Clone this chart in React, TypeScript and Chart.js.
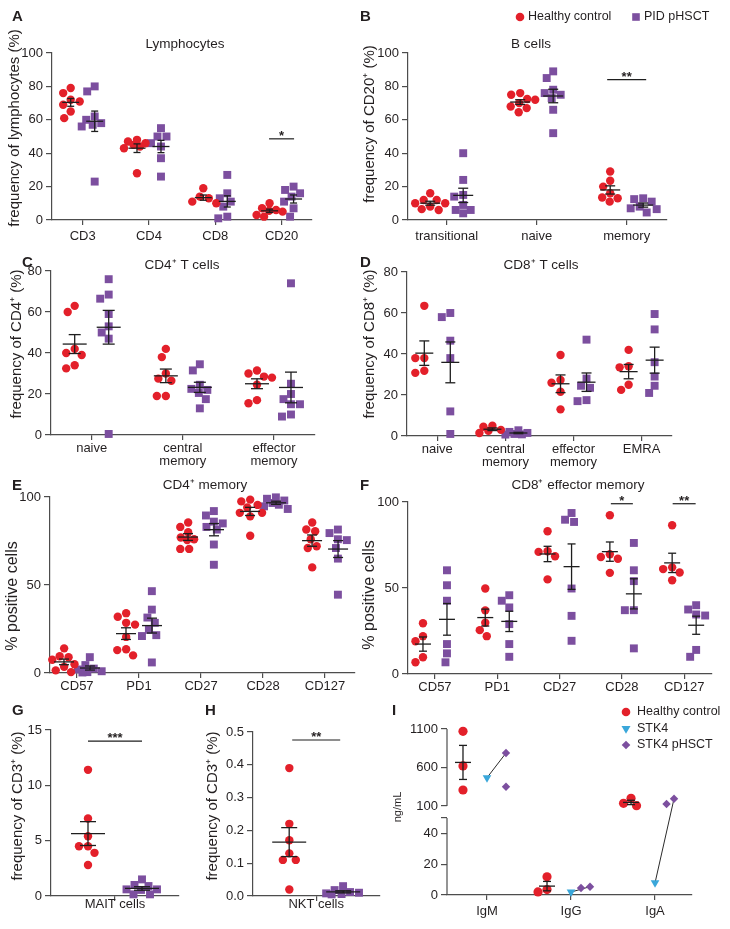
import React, { useEffect, useRef } from 'react';
import { Chart, registerables, LinearScale } from 'chart.js';

Chart.register(...registerables);

// ---------- data ----------
// A – Lymphocytes
const lymphCats = ['CD3', 'CD4', 'CD8', 'CD20'];
const lymphHealthy = [[79, 76, 72, 71, 69, 65, 61], [48, 47, 46, 45, 44, 43, 28], [19, 14, 13, 11, 10], [10, 7, 6, 5.5, 5, 3, 2]];
const lymphPid = [[80, 77, 62, 60, 58, 57, 56, 23], [55, 50, 50, 46, 44, 37, 26], [27, 16, 13, 11, 8, 2, 1], [20, 18, 16, 14, 11, 7, 2]];
// B – B cells
const bCats = ['transitional', 'naive', 'memory'];
const bHealthy = [[16, 12, 12, 10, 10, 8, 6.5, 6], [76, 75, 72.5, 72, 70, 68, 67, 64.5], [29, 23.5, 20, 16, 13.5, 13, 11]];
const bPid = [[40, 24, 15, 14, 9, 6, 6, 4], [89, 85, 78, 76, 75, 73, 66, 52], [13, 12.5, 11, 8, 7, 6.5, 4.5]];
// C – CD4+ T cells
const cd4Cats = [['naive'], ['central', 'memory'], ['effector', 'memory']];
const cd4Healthy = [[63, 60, 42, 40, 39, 34, 32.5], [42, 38, 30, 27.5, 26.5, 19, 19], [31.5, 30, 28.5, 28, 24.5, 17, 15.5]];
const cd4Pid = [[76, 68.5, 66.5, 59, 53, 50, 47, 0.5], [34.5, 31.5, 24.5, 22.5, 22, 20.5, 17.5, 13], [74, 25, 20, 17.5, 15, 15, 10, 9]];
// D – CD8+ T cells
const cd8Cats = [['naive'], ['central', 'memory'], ['effector', 'memory'], ['EMRA']];
const cd8Healthy = [[63.5, 38, 38, 31.8, 30.8], [5, 4.5, 3, 2.5, 1.5], [39.5, 27.3, 26, 21.6, 13], [42, 34, 33.5, 25, 22.5]];
const cd8Pid = [[60, 58, 46.5, 38, 12, 1], [2.8, 2, 1.5, 1, 0.8, 0.7], [47, 28, 24.5, 23.5, 17.5, 17], [59.5, 52, 36, 29, 24.5, 21]];
// E – CD4+ memory
const markerCats = ['CD57', 'PD1', 'CD27', 'CD28', 'CD127'];
const cd4MemHealthy = [[14, 9.5, 9, 7.5, 5, 3.5, 1.5, 0.5], [34, 32, 28.5, 27.5, 20.5, 13.5, 13, 10], [85.5, 83, 80, 77, 76, 75.5, 70.5, 70.5], [98.5, 97.5, 95.5, 94, 91, 91, 89, 78], [85.5, 81.5, 80.5, 76, 72, 71, 60]];
const cd4MemPid = [[9, 4.5, 2.5, 2, 1, 0.5, 0.3], [46.5, 36, 31.5, 28.5, 24.5, 21.5, 21, 6], [92, 89.5, 86, 85, 83, 81.5, 73, 61.5], [99.8, 99, 98, 96.6, 95.6, 94.7, 93.2], [81.5, 79.5, 76, 75.5, 71, 65, 44.5]];
// F – CD8+ effector memory
const cd8EmHealthy = [[29.5, 22, 19, 9.7, 6.8], [49.7, 37, 29.8, 25.5, 22], [83, 71.4, 71, 68.5, 55], [92.3, 69.6, 68, 67, 58.8], [86.5, 62, 61, 59, 54.5]];
const cd8EmPid = [[60.3, 51.6, 42.6, 17.4, 12, 6.8], [45.8, 42.6, 38.7, 29, 17.4, 10], [93.6, 89.7, 88.4, 49.7, 33.8, 19.3], [76.2, 60.3, 54, 37.1, 37.1, 14.9], [40, 37.5, 34.6, 34, 14, 10]];
// G – MAIT cells
const maitCats = ['MAIT cells'];
const maitHealthy = [[11.4, 7, 5.4, 4.5, 4.5, 3.9, 2.8]];
const maitPid = [[1.5, 1.0, 0.9, 0.6, 0.6, 0.55, 0.15, 0.15]];
// H – NKT cells
const nktCats = ['NKT cells'];
const nktHealthy = [[0.39, 0.22, 0.17, 0.13, 0.11, 0.11, 0.02]];
const nktPid = [[0.03, 0.018, 0.012, 0.01, 0.008, 0.006, 0.005]];
// I – immunoglobulins
const igCats = ['IgM', 'IgG', 'IgA'];
const igHealthy = [[1070, 620, 308], [11.8, 3.5, 2], [200, 135, 104]];
const igStk4 = [467, 1.9, 7.9];
const igStk4Hsct = [[788, 350], [5.4, 4.5], [195, 126]];

// tick values
const yTicks100 = [0, 20, 40, 60, 80, 100];
const yTicks80 = [0, 20, 40, 60, 80];
const yTicksPct = [0, 50, 100];
const yTicksMait = [0, 5, 10, 15];
const yTicksNkt = [0, 0.1, 0.2, 0.3, 0.4, 0.5];
const yLabelsNkt = ['0.0', '0.1', '0.2', '0.3', '0.4', '0.5'];
const yTicksIg = [0, 20, 40, 50, 100, 600, 1100];
const yLabelsIg = ['0', '20', '40', '', '100', '600', '1100'];

// ---------- style ----------
const RED = '#e3202a';
const PURPLE = '#7c4f9f';
const BLUE = '#3aa7da';
const AX = '#4d4d4d';
const TXT = '#231f20';
const FONT = '"Liberation Sans", Arial, Helvetica, sans-serif';
const DOT = 9;
const BREAK = { lowMax: 50, highMin: 100, highMax: 1100, lowFrac: 77 / 166, highFrac: 77 / 166 };

class BrokenScale extends LinearScale {
  static id = 'broken';
  getPixelForValue(value: number) {
    const h = this.bottom - this.top;
    if (value <= BREAK.lowMax) return this.bottom - (value / BREAK.lowMax) * BREAK.lowFrac * h;
    return this.top + ((BREAK.highMax - value) / (BREAK.highMax - BREAK.highMin)) * BREAK.highFrac * h;
  }
  getValueForPixel(pixel: number) {
    const h = this.bottom - this.top;
    const lowTop = this.bottom - BREAK.lowFrac * h;
    if (pixel >= lowTop) return ((this.bottom - pixel) / (BREAK.lowFrac * h)) * BREAK.lowMax;
    return BREAK.highMax - ((pixel - this.top) / (BREAK.highFrac * h)) * (BREAK.highMax - BREAK.highMin);
  }
}
Chart.register(BrokenScale as any);

type Group = { values: (number[] | number)[]; offset: number; color: string; style: string; r: number; rot?: number; err: boolean };
type Txt = { t: string; x: number; y: number; size: number; bold?: boolean; align?: CanvasTextAlign; base?: CanvasTextBaseline; rot?: boolean };
type Mark = { shape: string; x: number; y: number; color: string };
type Sig = { cat: number; y: number; text: string; half: number };
type Spec = {
  box: { x: number; y: number; w: number; h: number };
  area: { l: number; t: number; r: number; b: number };
  cats: (string | string[])[];
  xMin: number; xMax: number; yMin: number; yMax: number;
  yTicks: number[]; yLabels?: string[]; broken?: boolean;
  groups: Group[]; links?: [number, number];
  meanHalf: number; capHalf: number; spread: number; xPad: number;
  sig?: Sig[]; texts: Txt[]; marks?: Mark[];
};

const mean = (a: number[]) => a.reduce((s, v) => s + v, 0) / a.length;
const sem = (a: number[]) => {
  const m = mean(a);
  return Math.sqrt(a.reduce((s, v) => s + (v - m) * (v - m), 0) / (a.length - 1)) / Math.sqrt(a.length);
};

function swarm(vals: number[], yPx: (v: number) => number, d: number, maxHalf: number): number[] {
  const order = vals.map((_, i) => i).sort((a, b) => vals[b] - vals[a]);
  const placed: { x: number; y: number }[] = [];
  const out = new Array(vals.length).fill(0);
  const cands = [0];
  for (let s = 0.5; s <= maxHalf; s += 0.5) cands.push(-s, s);
  for (const i of order) {
    const y = yPx(vals[i]);
    let best = 0;
    let bestScore = -Infinity;
    for (const c of cands) {
      let mind = Infinity;
      for (const p of placed) mind = Math.min(mind, Math.hypot(p.x - c, p.y - y));
      if (mind >= d) { best = c; break; }
      if (mind > bestScore + 1e-9) { bestScore = mind; best = c; }
    }
    placed.push({ x: best, y });
    out[i] = best;
  }
  return out;
}

const hc = (values: number[][], offset: number): Group => ({ values, offset, color: RED, style: 'circle', r: 4.2, err: true });
const pid = (values: number[][], offset: number): Group => ({ values, offset, color: PURPLE, style: 'rect', r: 5.6, err: true });
const letter = (t: string, x: number, y: number): Txt => ({ t, x, y, size: 15, bold: true, align: 'left', base: 'alphabetic' });
const title = (t: string, x: number, y: number): Txt => ({ t, x, y, size: 13.5, align: 'center', base: 'middle' });
const ylab = (t: string, x: number, y: number, size = 15): Txt => ({ t, x, y, size, align: 'center', base: 'middle', rot: true });
const leg = (t: string, x: number, y: number): Txt => ({ t, x, y, size: 12.5, align: 'left', base: 'middle' });

function makeDecor(spec: Spec) {
  const seg = (ctx: CanvasRenderingContext2D, x1: number, y1: number, x2: number, y2: number) => {
    ctx.beginPath(); ctx.moveTo(x1, y1); ctx.lineTo(x2, y2); ctx.stroke();
  };
  return {
    id: 'decor',
    afterDatasetsDraw(chart: any) {
      const ctx: CanvasRenderingContext2D = chart.ctx;
      const xs = chart.scales.x, ys = chart.scales.y;
      ctx.save();
      ctx.strokeStyle = '#1e1e1e';
      ctx.lineWidth = 1.3;
      spec.groups.forEach((g) => {
        if (!g.err) return;
        g.values.forEach((entry, ci) => {
          const arr = Array.isArray(entry) ? entry : [entry];
          if (arr.length < 2) return;
          const m = mean(arr), s = sem(arr);
          const cx = xs.getPixelForValue(ci) + g.offset;
          const ym = ys.getPixelForValue(m), yt = ys.getPixelForValue(m + s), yb = ys.getPixelForValue(m - s);
          seg(ctx, cx - spec.meanHalf, ym, cx + spec.meanHalf, ym);
          seg(ctx, cx, yt, cx, yb);
          seg(ctx, cx - spec.capHalf, yt, cx + spec.capHalf, yt);
          seg(ctx, cx - spec.capHalf, yb, cx + spec.capHalf, yb);
        });
      });
      (spec.sig || []).forEach((s) => {
        const cx = xs.getPixelForValue(s.cat);
        const y = ys.getPixelForValue(s.y);
        ctx.lineWidth = 1.2;
        seg(ctx, cx - s.half, y, cx + s.half, y);
        ctx.fillStyle = TXT;
        ctx.font = `bold 13px ${FONT}`;
        ctx.textAlign = 'center';
        ctx.textBaseline = 'alphabetic';
        ctx.fillText(s.text, cx, y + 1);
      });
      ctx.restore();
    },
    afterDraw(chart: any) {
      const ctx: CanvasRenderingContext2D = chart.ctx;
      const ys = chart.scales.y;
      const ox = spec.box.x, oy = spec.box.y;
      ctx.save();
      if (spec.broken) {
        const x = chart.chartArea.left;
        ctx.strokeStyle = AX;
        ctx.lineWidth = 1.2;
        seg(ctx, x, ys.getPixelForValue(BREAK.highMax), x, ys.getPixelForValue(BREAK.highMin));
        seg(ctx, x, ys.getPixelForValue(BREAK.lowMax), x, ys.getPixelForValue(0));
      }
      (spec.marks || []).forEach((m) => {
        const x = m.x - ox, y = m.y - oy;
        ctx.fillStyle = m.color;
        ctx.beginPath();
        if (m.shape === 'circle') ctx.arc(x, y, 4.3, 0, Math.PI * 2);
        else if (m.shape === 'rect') ctx.rect(x - 3.8, y - 3.8, 7.6, 7.6);
        else if (m.shape === 'tri') { ctx.moveTo(x - 4.5, y - 3); ctx.lineTo(x + 4.5, y - 3); ctx.lineTo(x, y + 4.8); ctx.closePath(); }
        else if (m.shape === 'diamond') { ctx.moveTo(x, y - 4.3); ctx.lineTo(x + 4.3, y); ctx.lineTo(x, y + 4.3); ctx.lineTo(x - 4.3, y); ctx.closePath(); }
        ctx.fill();
      });
      spec.texts.forEach((t) => {
        ctx.save();
        ctx.fillStyle = TXT;
        ctx.font = `${t.bold ? 'bold ' : ''}${t.size}px ${FONT}`;
        ctx.textAlign = t.align || 'left';
        ctx.textBaseline = t.base || 'middle';
        ctx.translate(t.x - ox, t.y - oy);
        if (t.rot) ctx.rotate(-Math.PI / 2);
        ctx.fillText(t.t, 0, 0);
        ctx.restore();
      });
      ctx.restore();
    },
  };
}

function buildConfig(spec: Spec): any {
  const aw = spec.area.r - spec.area.l, ah = spec.area.b - spec.area.t;
  const pxPerX = aw / (spec.xMax - spec.xMin);
  const yPx = spec.broken
    ? (v: number) => (v <= BREAK.lowMax ? (v / BREAK.lowMax) * BREAK.lowFrac * ah : ah - ((BREAK.highMax - v) / (BREAK.highMax - BREAK.highMin)) * BREAK.highFrac * ah)
    : (v: number) => ((v - spec.yMin) / (spec.yMax - spec.yMin)) * ah;
  const pointSets = spec.groups.map((g) =>
    g.values.map((entry, ci) => {
      const arr = Array.isArray(entry) ? entry : [entry];
      const offs = swarm(arr, yPx, DOT, spec.spread);
      return arr.map((v, k) => ({ x: ci + (g.offset + offs[k]) / pxPerX, y: v }));
    })
  );
  const datasets: any[] = spec.groups.map((g, gi) => ({
    data: pointSets[gi].flat(),
    pointStyle: g.style,
    pointRadius: g.r,
    pointHoverRadius: g.r,
    pointRotation: g.rot || 0,
    backgroundColor: g.color,
    pointBackgroundColor: g.color,
    borderWidth: 0,
    pointBorderWidth: 0,
    showLine: false,
    clip: false,
  }));
  if (spec.links) {
    const [a, b] = spec.links;
    spec.cats.forEach((_, ci) => {
      datasets.push({
        data: [pointSets[a][ci][0], pointSets[b][ci][0]],
        showLine: true,
        borderColor: '#2b2b2b',
        borderWidth: 1,
        pointRadius: 0,
        clip: false,
      });
    });
  }
  const zeroPad = (s: any) => { s.paddingLeft = 0; s.paddingRight = 0; s.paddingTop = 0; s.paddingBottom = 0; };
  const yW = spec.area.l - spec.box.x;
  const xH = spec.box.y + spec.box.h - spec.area.b;
  return {
    type: 'scatter',
    data: { datasets },
    plugins: [makeDecor(spec)],
    options: {
      responsive: false,
      animation: false,
      devicePixelRatio: 1,
      events: [],
      layout: {
        padding: {
          left: 0,
          top: spec.area.t - spec.box.y,
          right: spec.box.x + spec.box.w - spec.area.r,
          bottom: 0,
        },
      },
      plugins: { legend: { display: false }, tooltip: { enabled: false }, title: { display: false } },
      scales: {
        x: {
          type: 'linear', position: 'bottom', min: spec.xMin, max: spec.xMax,
          afterBuildTicks: (s: any) => { s.ticks = spec.cats.map((_, i) => ({ value: i })); },
          afterFit: (s: any) => { s.height = xH; zeroPad(s); },
          ticks: {
            callback: (_v: any, i: number) => spec.cats[i],
            font: { family: FONT, size: 13, lineHeight: 1.0 }, color: TXT, padding: spec.xPad,
            maxRotation: 0, minRotation: 0, autoSkip: false,
          },
          grid: { drawOnChartArea: false, drawTicks: true, tickLength: 5, color: AX, lineWidth: 1.2 },
          border: { display: true, color: AX, width: 1.2 },
        },
        y: {
          type: spec.broken ? 'broken' : 'linear', position: 'left', min: spec.yMin, max: spec.yMax,
          afterBuildTicks: (s: any) => { s.ticks = spec.yTicks.map((v) => ({ value: v })); },
          afterFit: (s: any) => { s.width = yW; zeroPad(s); },
          ticks: {
            callback: (v: any, i: number) => (spec.yLabels ? spec.yLabels[i] : String(v)),
            font: { family: FONT, size: 13 }, color: TXT, padding: 3, autoSkip: false,
          },
          grid: { drawOnChartArea: false, drawTicks: true, tickLength: 6, color: AX, lineWidth: 1.2 },
          border: { display: !spec.broken, color: AX, width: 1.2 },
        },
      },
    },
  };
}

// ---------- panels ----------
const specs: Spec[] = [
  {
    box: { x: 0, y: 0, w: 365, h: 250 }, area: { l: 52, t: 53, r: 312, b: 220 },
    cats: lymphCats, xMin: -0.463, xMax: 3.459, yMin: 0, yMax: 100, yTicks: yTicks100,
    groups: [hc(lymphHealthy, -12), pid(lymphPid, 12)], meanHalf: 8.5, capHalf: 3.5, spread: 13, xPad: 5,
    sig: [{ cat: 3, y: 48.6, text: '*', half: 12.5 }],
    texts: [letter('A', 12, 21), title('Lymphocytes', 185, 44), ylab('frequency of lymphocytes (%)', 15, 128)],
  },
  {
    box: { x: 358, y: 0, w: 372, h: 250 }, area: { l: 408, t: 53, r: 667, b: 220 },
    cats: bCats, xMin: -0.43, xMax: 2.448, yMin: 0, yMax: 100, yTicks: yTicks100,
    groups: [hc(bHealthy, -16.5), pid(bPid, 16.5)], meanHalf: 10, capHalf: 5, spread: 15, xPad: 5,
    sig: [{ cat: 2, y: 84, text: '**', half: 19.5 }],
    texts: [letter('B', 360, 21), title('B cells', 531, 44), ylab('frequency of CD20⁺ (%)', 370, 124),
      leg('Healthy control', 528, 17), leg('PID pHSCT', 644, 17)],
    marks: [{ shape: 'circle', x: 520, y: 17, color: RED }, { shape: 'rect', x: 636, y: 17, color: PURPLE }],
  },
  {
    box: { x: 0, y: 245, w: 358, h: 232 }, area: { l: 51, t: 271, r: 315, b: 435 },
    cats: cd4Cats, xMin: -0.4465, xMax: 2.45, yMin: 0, yMax: 80, yTicks: yTicks80,
    groups: [hc(cd4Healthy, -17), pid(cd4Pid, 17)], meanHalf: 12, capHalf: 6, spread: 15, xPad: 2,
    texts: [letter('C', 22, 267), title('CD4⁺ T cells', 182, 265), ylab('frequency of CD4⁺ (%)', 17, 344)],
  },
  {
    box: { x: 358, y: 245, w: 372, h: 232 }, area: { l: 407, t: 272, r: 672, b: 436 },
    cats: cd8Cats, xMin: -0.4449, xMax: 3.446, yMin: 0, yMax: 80, yTicks: yTicks80,
    groups: [hc(cd8Healthy, -13), pid(cd8Pid, 13)], meanHalf: 9, capHalf: 5, spread: 13, xPad: 2,
    texts: [letter('D', 360, 267), title('CD8⁺ T cells', 541, 265), ylab('frequency of CD8⁺ (%)', 370, 344)],
  },
  {
    box: { x: 0, y: 470, w: 360, h: 225 }, area: { l: 50, t: 497, r: 358, b: 673 },
    cats: markerCats, xMin: -0.435, xMax: 4.473, yMin: 0, yMax: 100, yTicks: yTicksPct,
    groups: [hc(cd4MemHealthy, -13), pid(cd4MemPid, 13)], meanHalf: 10, capHalf: 5, spread: 12, xPad: 2,
    texts: [letter('E', 12, 490), title('CD4⁺ memory', 205, 485), ylab('% positive cells', 13, 596, 16)],
  },
  {
    box: { x: 358, y: 470, w: 372, h: 225 }, area: { l: 408, t: 502, r: 712, b: 674 },
    cats: markerCats, xMin: -0.433, xMax: 4.447, yMin: 0, yMax: 100, yTicks: yTicksPct,
    groups: [hc(cd8EmHealthy, -12), pid(cd8EmPid, 12)], meanHalf: 8, capHalf: 4, spread: 12, xPad: 2,
    sig: [{ cat: 3, y: 99, text: '*', half: 11 }, { cat: 4, y: 99, text: '**', half: 11.5 }],
    texts: [letter('F', 360, 490), title('CD8⁺ effector memory', 578, 485), ylab('% positive cells', 370, 595, 16)],
  },
  {
    box: { x: 0, y: 695, w: 200, h: 234 }, area: { l: 51, t: 730, r: 179, b: 896 },
    cats: maitCats, xMin: -0.5, xMax: 0.5, yMin: 0, yMax: 15, yTicks: yTicksMait,
    groups: [hc(maitHealthy, -27), pid(maitPid, 27)], meanHalf: 17, capHalf: 8, spread: 18, xPad: -3,
    sig: [{ cat: 0, y: 14.0, text: '***', half: 27 }],
    texts: [letter('G', 12, 715), ylab('frequency of CD3⁺ (%)', 18, 806)],
  },
  {
    box: { x: 200, y: 695, w: 185, h: 234 }, area: { l: 253, t: 732, r: 380, b: 896 },
    cats: nktCats, xMin: -0.5, xMax: 0.5, yMin: 0, yMax: 0.5, yTicks: yTicksNkt, yLabels: yLabelsNkt,
    groups: [hc(nktHealthy, -27), pid(nktPid, 27)], meanHalf: 17, capHalf: 8, spread: 20, xPad: -3,
    sig: [{ cat: 0, y: 0.4756, text: '**', half: 24 }],
    texts: [letter('H', 205, 715), ylab('frequency of CD3⁺ (%)', 213, 806)],
  },
  {
    box: { x: 385, y: 695, w: 345, h: 234 }, area: { l: 447, t: 729, r: 692, b: 895 },
    cats: igCats, xMin: -0.476, xMax: 2.44, yMin: 0, yMax: 1100, yTicks: yTicksIg, yLabels: yLabelsIg, broken: true,
    groups: [
      { values: igHealthy, offset: -24, color: RED, style: 'circle', r: 4.6, err: true },
      { values: igStk4, offset: 0, color: BLUE, style: 'triangle', r: 5, rot: 180, err: false },
      { values: igStk4Hsct, offset: 19, color: PURPLE, style: 'rectRot', r: 4.2, err: false },
    ],
    links: [1, 2], meanHalf: 8, capHalf: 4, spread: 9, xPad: 5,
    texts: [letter('I', 392, 715), ylab('ng/mL', 398, 807, 11),
      leg('Healthy control', 637, 712), leg('STK4', 637, 729), leg('STK4 pHSCT', 637, 745)],
    marks: [{ shape: 'circle', x: 626, y: 712, color: RED }, { shape: 'tri', x: 626, y: 729, color: BLUE }, { shape: 'diamond', x: 626, y: 745, color: PURPLE }],
  },
];

function Panel({ spec }: { spec: Spec }) {
  const ref = useRef<HTMLCanvasElement>(null);
  useEffect(() => {
    const chart = new Chart(ref.current as HTMLCanvasElement, buildConfig(spec));
    return () => chart.destroy();
  }, [spec]);
  return (
    <canvas
      ref={ref}
      width={spec.box.w}
      height={spec.box.h}
      style={{ position: 'absolute', left: spec.box.x, top: spec.box.y, width: spec.box.w, height: spec.box.h }}
    />
  );
}

export default function App() {
  return (
    <div style={{ position: 'absolute', left: 0, top: 0, width: 730, height: 929, background: '#ffffff', overflow: 'hidden' }}>
      {specs.map((s, i) => (
        <Panel key={i} spec={s} />
      ))}
    </div>
  );
}
